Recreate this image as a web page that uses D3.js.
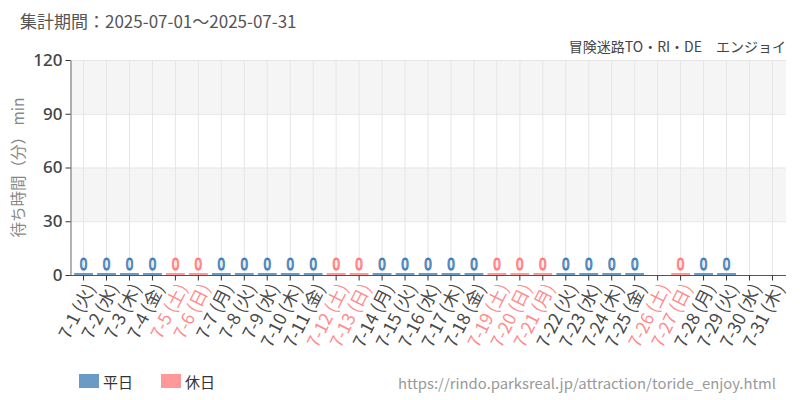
<!DOCTYPE html>
<html>
<head>
<meta charset="utf-8">
<script src="https://cdn.jsdelivr.net/npm/d3@7"></script>
<style>
  body { margin: 0; background: #fff; }
  svg { font-family: "Noto Sans CJK JP", "Noto Sans", sans-serif; }
</style>
</head>
<body>
<div id="container"></div>
<script>
// data
var days = ["7-1","7-2","7-3","7-4","7-5","7-6","7-7","7-8","7-9","7-10",
            "7-11","7-12","7-13","7-14","7-15","7-16","7-17","7-18","7-19","7-20",
            "7-21","7-22","7-23","7-24","7-25","7-26","7-27","7-28","7-29","7-30","7-31"];
var weekdays = ["火","水","木","金","土","日","月","火","水","木",
                "金","土","日","月","火","水","木","金","土","日",
                "月","火","水","木","金","土","日","月","火","水","木"];
var holidays = ["7-5","7-6","7-12","7-13","7-19","7-20","7-21","7-26","7-27"];
var waitTimes = [0,0,0,0,0,0,0,0,0,0,
                 0,0,0,0,0,0,0,0,0,0,
                 0,0,0,0,0,null,0,0,0,null,null];
var yTicks = [0, 30, 60, 90, 120];
var legendItems = ["平日", "休日"];

var W = 800, H = 400;
var m = {left: 70, right: 14, top: 60, bottom: 125};

var svg = d3.select("#container").append("svg")
            .attr("width", W).attr("height", H);

var x = d3.scaleBand().domain(days).range([m.left, W - m.right]).padding(0.18);
var y = d3.scaleLinear().domain([0, 120]).range([H - m.bottom, m.top]);
var color = d3.scaleOrdinal().domain(legendItems).range(["#6a9bc4", "#ff9999"]);
var strokeCol = d3.scaleOrdinal().domain(legendItems).range(["#3f7db5", "#ff7b7b"]);

function kind(d){ return holidays.indexOf(d) >= 0 ? "休日" : "平日"; }

// alternating bands
var bands = d3.pairs(yTicks);
svg.append("g").selectAll("rect").data(bands).enter().append("rect")
   .attr("x", m.left).attr("width", W - m.right - m.left)
   .attr("y", function(d){ return y(d[1]); })
   .attr("height", function(d){ return y(d[0]) - y(d[1]); })
   .attr("fill", function(d, i){ return i % 2 == 1 ? "#f5f5f5" : "#fff"; });

// grid
svg.append("g").selectAll("line").data(yTicks).enter().append("line")
   .attr("x1", m.left).attr("x2", W - m.right)
   .attr("y1", function(d){ return y(d) + 0.5; }).attr("y2", function(d){ return y(d) + 0.5; })
   .attr("stroke", "#e6e6e6");
svg.append("g").selectAll("line").data(days).enter().append("line")
   .attr("x1", function(d){ return x(d) + x.bandwidth()/2; })
   .attr("x2", function(d){ return x(d) + x.bandwidth()/2; })
   .attr("y1", m.top).attr("y2", H - m.bottom)
   .attr("stroke", "#e6e6e6");

// bars
var rows = days.map(function(d, i){ return {day: d, wd: weekdays[i], v: waitTimes[i]}; });
var valid = rows.filter(function(r){ return r.v !== null; });

svg.append("g").selectAll("rect").data(valid).enter().append("rect")
   .attr("x", function(d){ return x(d.day); })
   .attr("width", x.bandwidth())
   .attr("y", function(d){ return Math.min(y(d.v), y(0) - 2); })
   .attr("height", function(d){ return Math.max(2, y(0) - y(d.v)); })
   .attr("fill", function(d){ return color(kind(d.day)); });

svg.append("g").selectAll("text").data(valid).enter().append("text")
   .text(function(d){ return d.v; })
   .attr("transform", function(d){
       return "translate(" + (x(d.day) + x.bandwidth()/2) + "," + (y(d.v) - 5) + ") scale(0.85,1)";
   })
   .attr("text-anchor", "middle")
   .attr("font-size", 16)
   .attr("fill", function(d){ return kind(d.day) == "休日" ? "#ffe6e6" : "#dbe8f4"; })
   .attr("stroke", function(d){ return strokeCol(kind(d.day)); })
   .attr("stroke-width", 1.1);

// y axis
var yAxis = svg.append("g").attr("transform", "translate(" + (m.left + 0.5) + ",0)")
   .call(d3.axisLeft(y).tickValues(yTicks).tickSize(5).tickSizeOuter(0));
yAxis.select(".domain").attr("stroke", "#666");
yAxis.selectAll(".tick line").attr("stroke", "#333");
yAxis.selectAll("text").attr("font-size", 17).attr("font-weight", 500)
     .attr("fill", "#444").attr("font-family", "'Noto Sans', sans-serif");

// x axis
var xAxis = svg.append("g").attr("transform", "translate(0," + (y(0) + 0.5) + ")")
   .call(d3.axisBottom(x).tickSize(5).tickSizeOuter(0).tickFormat(""));
xAxis.select(".domain").attr("stroke", "#555").attr("d", "M" + m.left + ",0H" + (W - m.right));
xAxis.selectAll(".tick line").attr("stroke", "#333");

svg.append("g").selectAll("text").data(rows).enter().append("text")
   .text(function(d){ return d.day + " (" + d.wd + ")"; })
   .attr("transform", function(d){
       return "translate(" + (x(d.day) + x.bandwidth()/2 + 7) + "," + (y(0) + 10) + ") rotate(-63)";
   })
   .attr("text-anchor", "end")
   .attr("dy", "0.35em")
   .attr("font-size", 17.5)
   .attr("fill", function(d){ return kind(d.day) == "休日" ? "#ff8c8c" : "#484848"; });

// y label
svg.append("text").text("待ち時間（分） min")
   .attr("transform", "translate(24," + ((m.top + y(0)) / 2) + ") rotate(-90)")
   .attr("text-anchor", "middle")
   .attr("font-size", 15.5).attr("fill", "#888");

// titles
svg.append("text").text("集計期間：2025-07-01～2025-07-31")
   .attr("x", 20).attr("y", 28).attr("font-size", 17).attr("fill", "#555");
svg.append("text").text("冒険迷路TO・RI・DE　エンジョイ")
   .attr("x", W - 14).attr("y", 52).attr("text-anchor", "end")
   .attr("font-size", 14).attr("fill", "#444");

// legend
var legend = svg.append("g").selectAll("g").data(legendItems).enter().append("g")
   .attr("transform", function(d, i){ return "translate(" + (79 + i * 82) + ",374)"; });
legend.append("rect").attr("width", 20).attr("height", 14)
   .attr("fill", function(d){ return color(d); });
legend.append("text").text(function(d){ return d; })
   .attr("x", 24).attr("y", 14).attr("font-size", 15).attr("fill", "#333");

svg.append("text").text("https://rindo.parksreal.jp/attraction/toride_enjoy.html")
   .attr("x", 776).attr("y", 389).attr("text-anchor", "end")
   .attr("font-size", 14).attr("fill", "#999")
   .attr("textLength", 378).attr("lengthAdjust", "spacingAndGlyphs");
</script>
</body>
</html>
